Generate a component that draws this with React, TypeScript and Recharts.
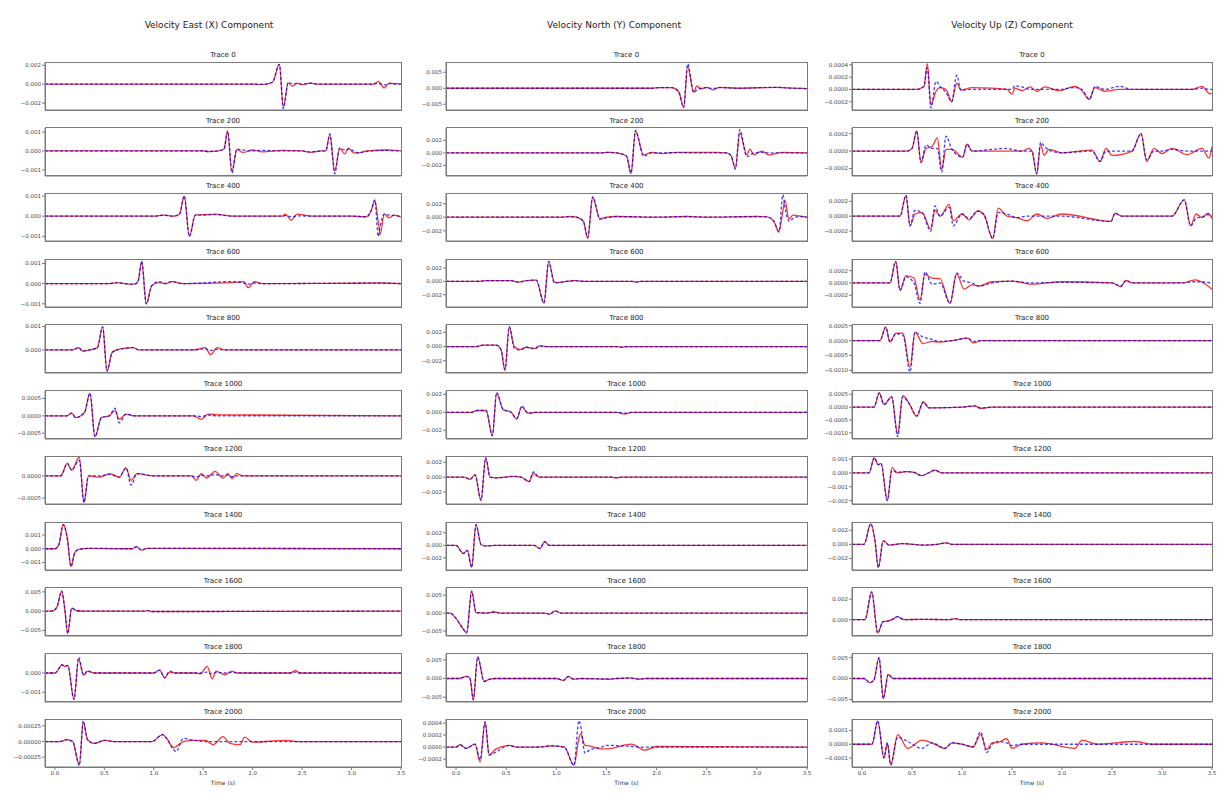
import { LineChart, Line, XAxis, YAxis } from 'recharts'

// values are in units of 1e-4 (m/s)
const UNIT = 1e-4
const xTicks = [0, 0.5, 1, 1.5, 2, 2.5, 3, 3.5]

// ---- Velocity East (X) ----
const e0T = [-0.1, 2.0, 2.1, 2.2, 2.27, 2.31, 2.36, 2.40, 2.45, 2.5, 2.58, 2.65, 3.0, 3.22, 3.27, 3.33, 3.38, 3.45, 3.5]
const e0Red = [0, 0, -0.3, 2, 21, -24, 1, -2, 1, -0.5, 1, 0, 0, 0, 3, -4, 1, 0.5, 0]
const e0Blue = [0, 0, -0.3, 2, 21, -26, 2, 0.5, 0.5, 0, 1, 0, 0, 0, 1, -1, 0.5, 0, 0]

const e200T = [-0.1, 1.5, 1.55, 1.65, 1.71, 1.747, 1.79, 1.84, 1.9, 2.0, 2.1, 2.3, 2.5, 2.58, 2.7, 2.74, 2.78, 2.83, 2.88, 2.93, 2.97, 3.02, 3.07, 3.15, 3.35, 3.45, 3.5]
const e200Red = [0, 0, -0.3, 0, 1, 10.5, -11, 0.8, -0.8, 0.5, -0.5, 0.3, 0, -0.8, 0, 0, 8.5, -10.5, 1.5, -1.5, 1.5, -1, -1, 0, 0.5, 0.3, 0]
const e200Blue = [0, 0, -0.3, 0, 1, 10.5, -11.5, 1, 0.5, 0, 0.3, 0, 0, -0.5, 0, 0, 9, -12, 1.5, 0.5, 1, 0, -1, -0.3, 0.3, 0, 0]

const e400T = [-0.1, 1.0, 1.1, 1.2, 1.26, 1.308, 1.36, 1.42, 1.5, 1.62, 1.8, 2.3, 2.33, 2.39, 2.45, 2.6, 3.0, 3.15, 3.2, 3.235, 3.27, 3.29, 3.33, 3.38, 3.43, 3.5]
const e400Red = [0, 0, 0.5, 0, 1, 10, -10, 0.5, 0.8, 1, 0, 0, 1, -2, 1, 0, 0, -0.3, 3, 8, -3, -9, 1, -0.8, 0.5, -0.5]
const e400Blue = [0, 0, 0.5, 0, 1, 10, -10, 0.5, 0.5, 0.8, 0, 0, 0.3, -0.3, 0.2, 0, 0, -0.3, 3, 8, -10, -5, 1, 0.5, 0.3, 0]

const e600T = [-0.1, 0.55, 0.63, 0.7, 0.8, 0.84, 0.878, 0.924, 0.98, 1.05, 1.12, 1.18, 1.3, 1.79, 1.91, 1.956, 2.02, 2.1, 3.3, 3.5]
const e600Red = [0, 0, 0.5, 0, -0.3, 1, 11, -10, -1, 0.5, 0, 1, 0, 0.5, 1, -2, 1, 0, 0.3, 0]
const e600Blue = [0, 0, 0.5, 0, -0.3, 1, 11, -10, -1, 1, 0, 1, 0, 1, 0.3, -0.3, 0.3, 0, 0.2, 0]

const e800T = [-0.1, 0.18, 0.24, 0.28, 0.35, 0.43, 0.483, 0.527, 0.58, 0.65, 0.79, 0.85, 1.4, 1.52, 1.575, 1.64, 1.72, 3.5]
const e800Red = [0, 0, 1, -0.5, 0, 1, 9.8, -9, -1, 0.3, 1, 0, 0, 1, -2, 1, 0, 0]
const e800Blue = [0, 0, 1, -0.5, 0, 1, 9.8, -9, -1, 0.3, 1, 0, 0, 0.5, -0.3, 0.3, 0, 0]

const e1000T = [-0.1, 0.12, 0.17, 0.21, 0.3, 0.355, 0.405, 0.47, 0.55, 0.608, 0.65, 0.72, 0.8, 1.4, 1.48, 1.55, 1.65, 3.5]
const e1000Red = [0, 0, 0.8, -0.5, 1, 6.5, -6, -0.5, 0, 1.5, -1, 0.5, 0, 0, -1, 0.5, 0.3, 0]
const e1000Blue = [0, 0, 0.8, -0.5, 1, 6.5, -6, -0.5, 0, 2.2, -2, 0.5, 0, 0, -0.2, 0.2, 0, 0]

const e1200T = [-0.1, 0.06, 0.125, 0.17, 0.247, 0.294, 0.34, 0.45, 0.557, 0.65, 0.72, 0.77, 0.83, 1.0, 1.38, 1.43, 1.48, 1.53, 1.62, 1.7, 1.75, 1.79, 1.84, 1.9, 3.5]
const e1200Red = [0, 0, 2.8, 1.3, 4.2, -6, 0, -0.3, 0.5, -0.3, 1.8, -1, 0.5, 0, 0, -1, 0.5, -0.5, 1, -0.5, 0.5, -0.6, 0.5, 0, 0]
const e1200Blue = [0, 0, 2.8, 1.3, 3.5, -6, 0, 0, 0.3, -0.3, 1.8, -2.1, 0.5, 0, 0, -0.3, 0.2, 0, 0.3, 0, 0.2, -0.2, 0, 0, 0]

const e1400T = [-0.1, 0.0, 0.04, 0.085, 0.125, 0.163, 0.2, 0.24, 0.35, 0.78, 0.827, 0.878, 0.93, 3.5]
const e1400Vals = [0, 0, 3, 17.5, 8, -13, -3, -0.5, 0.3, 0, 1.5, -1, 0.3, 0]

const e1600T = [-0.1, -0.03, 0.02, 0.069, 0.1, 0.13, 0.17, 0.22, 0.3, 0.9, 0.94, 0.98, 3.5]
const e1600Vals = [0, 0, 10, 52, 5, -58, 8, 1, 0, 0, 1.5, -1, 0]

const e1800T = [-0.1, 0.0, 0.05, 0.07, 0.1, 0.13, 0.193, 0.24, 0.29, 0.33, 0.4, 1.0, 1.06, 1.11, 1.16, 1.22, 1.42, 1.47, 1.54, 1.59, 1.63, 1.72, 1.79, 1.85, 2.38, 2.43, 2.48, 3.5]
const e1800Red = [0, 0, 3, 4.3, 3.5, 4, -13.6, 7, -1, 1, 0, 0, 1.5, -2.5, 0.5, 0, 0, -0.5, 3.5, -3, 1, -1, 1, 0, 0, 1.2, 0, 0]
const e1800Blue = [0, 0, 3, 4.3, 3.5, 4, -13.8, 8.2, -1, 1, 0, 0, 1.5, -2.5, 1, 0, 0, 0, 0.5, -0.5, 0.3, 0, 0.3, 0, 0, 0.5, 0, 0]

const e2000T = [-0.1, 0.05, 0.12, 0.18, 0.247, 0.287, 0.33, 0.4, 0.5, 0.6, 0.98, 1.09, 1.13, 1.2, 1.225, 1.3, 1.4, 1.52, 1.6, 1.7, 1.77, 1.87, 1.92, 2.0, 2.34, 2.45, 3.5]
const e2000Red = [0, 0, 0.3, 0, -3.7, 3.1, 0.3, -0.3, 0.2, 0, 0, 1.1, 0.5, -1, -0.8, 0, 0.2, 0.2, -0.5, 0.8, -0.3, -0.5, 0.7, -0.1, 0.2, 0, 0]
const e2000Blue = [0, 0, 0.3, 0, -3.8, 3.3, 0.3, -0.3, 0.2, 0, 0, 1.1, 0.5, -1.3, -1.6, 0.5, 0.2, 0, 0, 0, 0, 0, 0, 0, 0, 0, 0]

// ---- Velocity North (Y) ----
const n0T = [-0.1, 1.95, 2.03, 2.15, 2.22, 2.27, 2.31, 2.37, 2.40, 2.44, 2.5, 2.56, 2.63, 2.8, 3.2, 3.3, 3.5]
const n0Red = [0, 0, 2, 2, -10, -60, 68, -13, 7, -2, 3, -5, 3, 0, 3, 1, -1]
const n0Blue = [0, 0, 2, 2, -10, -60, 76, -13, -6, 0, 2, -1, 2, 0, 3, 1, -1]

const n200T = [-0.1, 1.45, 1.52, 1.6, 1.7, 1.745, 1.79, 1.87, 1.95, 2.05, 2.2, 2.4, 2.6, 2.7, 2.745, 2.785, 2.83, 2.9, 2.93, 2.97, 3.05, 3.12, 3.25, 3.5]
const n200Red = [0, 0, 1, 0, -5, -33, 34, -3, 1, -1, 1, 1, 1, 0, -5, -25, 32, -3, 6, -3, 3, -3, 1, 0]
const n200Blue = [0, 0, 1, 0, -5, -32, 36, -5, 0, 0, 0.5, 0, 0, 0, -5, -26, 37, -6, -4, 0, 1, 0, 0, 0]

const n400T = [-0.1, 1.05, 1.136, 1.2, 1.27, 1.313, 1.363, 1.435, 1.5, 1.6, 2.0, 2.3, 2.5, 3.0, 3.1, 3.17, 3.22, 3.26, 3.28, 3.32, 3.36, 3.42, 3.5]
const n400Red = [0, 0, 1, 0, -6, -31, 29, -2, 0, 1, 0, 1, 0, 1, 0.5, -6, -22, 10, 25, -3, 3, 2, 0]
const n400Blue = [0, 0, 1, 0, -6, -30, 30, -3, -1, 1, 0, 1, 0, 1, 0.5, -6, -21, 33, 15, -6, -2, 1, 0]

const n600T = [-0.1, 0.2, 0.3, 0.55, 0.62, 0.7, 0.8, 0.877, 0.924, 0.98, 1.02, 1.1, 1.19, 1.3, 1.75, 1.8, 1.85, 3.5]
const n600Red = [0, 0, 1, 1, -1, 1, 2, -33, 30, -1, -2, 0, 1, 0, 0, -1, 0, 0]
const n600Blue = [0, 0, 1, 1, -1, 1, 2, -32, 30, -2, -2, 0, 1, 0, 0, -1, 0, 0]

const n800T = [-0.1, 0.2, 0.27, 0.4, 0.45, 0.488, 0.531, 0.58, 0.638, 0.7, 0.787, 0.83, 0.9, 1.6, 1.65, 1.7, 3.5]
const n800Red = [0, 0, 2, 2, -5, -34, 28, 0, -4, -1, -3, 1, 0, 0, -1, 0, 0]
const n800Blue = [0, 0, 2, 2, -5, -32, 28, -2, -5, -1, -3, 1, 0, 0, -1, 0, 0]

const n1000T = [-0.1, 0.15, 0.21, 0.3, 0.362, 0.405, 0.47, 0.55, 0.605, 0.655, 0.72, 0.8, 1.6, 1.685, 1.75, 3.5]
const n1000Red = [0, 0, 2, 2, -26, 21, 3, 0, -7.5, 6, -1, 0, 0, -2, 0, 0]
const n1000Blue = [0, 0, 2, 2, -26, 22, 3, 0, -7, 7, -1, 0, 0, -1, 0, 0]

const n1200T = [-0.1, 0.08, 0.14, 0.19, 0.249, 0.296, 0.34, 0.4, 0.57, 0.65, 0.73, 0.77, 0.83, 1.55, 1.6, 1.65, 3.5]
const n1200Red = [0, 0, -3, 3, -31, 26, 0, -1, 1, 0, -6, 5, 0, 0, -1, 0, 0]
const n1200Blue = [0, 0, -3, 3, -31, 26, 0, -1, 1, 0, -6, 7, 0, 0, -0.5, 0, 0]

const n1400T = [-0.1, 0.0, 0.073, 0.112, 0.156, 0.199, 0.25, 0.3, 0.4, 0.78, 0.837, 0.884, 0.93, 3.5]
const n1400Vals = [0, 0, -13, -8, -35, 33, 1, -1, 0, 0, -5, 6, 0, 0]

const n1600T = [-0.1, -0.06, 0.0, 0.066, 0.106, 0.156, 0.2, 0.3, 0.38, 0.45, 0.88, 0.937, 0.987, 1.05, 3.5]
const n1600Vals = [0, 0, -15, -42, -55, 61, 1, 0, 3, 0, 0, -3, 6, 0, 0]

const n1800T = [-0.1, 0.03, 0.106, 0.14, 0.172, 0.216, 0.28, 0.33, 0.4, 1.0, 1.07, 1.12, 1.17, 1.25, 1.53, 1.6, 1.73, 1.83, 1.9, 3.5]
const n1800Red = [0, 0, 6, 0, -57, 58, -8, -2, 0, 0, -5, 6, -2, 0, -2, 0, 2, -2, 0, 0]
const n1800Blue = [0, 0, 6, 0, -57, 58, -8, -2, 0, 0, -5, 5, -1, 0, -1, 0, 1, -1, 0, 0]

const n2000T = [-0.1, 0.0, 0.04, 0.1, 0.19, 0.24, 0.29, 0.33, 0.4, 0.53, 0.6, 0.8, 0.95, 1.08, 1.176, 1.226, 1.243, 1.286, 1.33, 1.45, 1.5, 1.75, 1.88, 2.0, 3.5]
const n2000Red = [0, 0, 0.4, -0.2, 0.5, -2.5, 4.2, -1.3, -0.3, 0.3, 0, 0, 0.2, 0, -3, 1.5, 2.2, 0.3, 0.2, -0.3, -0.3, 0.5, -0.5, 0.1, 0]
const n2000Blue = [0, 0, 0.4, -0.2, 0.5, -2.1, 4.2, -1.3, -0.8, 0.3, 0, 0, 0.2, 0, -3, 4.4, 3.5, -1, -0.5, 0, 0.3, 0.1, 0, 0, 0]

// ---- Velocity Up (Z) ----
const u0T = [-0.1, 0.55, 0.62, 0.653, 0.69, 0.74, 0.78, 0.84, 0.897, 0.947, 0.99, 1.1, 1.3, 1.45, 1.5, 1.53, 1.6, 1.68, 1.75, 1.83, 1.97, 2.13, 2.2, 2.273, 2.33, 2.43, 2.57, 2.7, 3.3, 3.4, 3.48, 3.5]
const u0Red = [0, 0, 0.5, 4.2, -2.5, -0.3, 0.3, 0, -2, 1, -0.1, 0.3, 0.2, 0, -0.8, 0.2, -0.2, 0.4, -0.3, 0.4, -0.2, 0.5, -0.2, -1.6, 0.3, -0.3, 0, 0, 0, 0.5, -0.7, -0.6]
const u0Blue = [0, 0, 0.5, 3.5, -3, 1.3, 0.5, -0.5, -2, 2.3, -0.1, 0, 0, 0, 0, 0.6, 0.4, 0, 0, 0, 0, 0.3, 0, -1.6, 0.5, 0, 0.5, 0, 0, 0.2, 0, 0]

const u200T = [-0.1, 0.45, 0.5, 0.547, 0.59, 0.64, 0.7, 0.753, 0.797, 0.84, 0.9, 1.007, 1.05, 1.1, 1.43, 1.6, 1.67, 1.7, 1.747, 1.787, 1.82, 1.87, 2.0, 2.3, 2.38, 2.44, 2.5, 2.7, 2.79, 2.847, 2.92, 3.0, 3.1, 3.25, 3.4, 3.47, 3.5]
const u200Red = [0, 0, 0.3, 2.3, -1.3, 0.3, 0.5, 1.5, -2.1, 0.2, 0.2, -0.7, 0.8, 0, 0, 0, 0.3, 0, -2.6, 0.8, -0.5, 0.2, -0.2, 0.1, -1.2, 0.3, -0.5, 0, 2, -1.2, 0.3, -0.3, 0.3, -0.4, 0.3, -0.8, 0.5]
const u200Blue = [0, 0, 0.3, 2.3, -1.3, 0.7, 0.3, 0.3, -2.4, 1.7, 0.2, -0.7, 0.8, 0, 0.3, 0, 0, 0, -2.6, 1.0, 0.6, 0.1, -0.2, 0, -1.2, 0, 0, 0, 2, -1, 0, 0, 0.2, 0, 0, 0, 0]

const u400T = [-0.1, 0.38, 0.44, 0.48, 0.53, 0.6, 0.687, 0.73, 0.78, 0.873, 0.913, 1.0, 1.07, 1.157, 1.22, 1.307, 1.363, 1.45, 1.55, 1.65, 1.75, 1.85, 2.0, 2.49, 2.53, 2.6, 3.1, 3.223, 3.287, 3.34, 3.4, 3.46, 3.5]
const u400Red = [0, 0, 2.8, -1.3, 0.3, 0.5, -1.7, 0.8, 0, 1.6, -0.6, 0.3, -0.5, 0.7, 0.2, -3, 1.1, 0, -0.2, -0.6, 0.3, -0.3, 0.3, -0.7, 0.4, 0, 0, 2.2, -1.3, 0.3, -0.2, 0.4, -0.3]
const u400Blue = [0, 0, 2.8, -1.3, 0.8, 0.5, -2, 1.4, 0, 1.2, -1.3, 0.3, -0.3, 0.7, 0.2, -3, 0.5, 0.3, -0.2, 0, 0, 0, 0, -0.7, 0.4, 0, 0, 2.2, -1.3, -0.3, -0.1, 0.2, 0]

const u600T = [-0.1, 0.28, 0.337, 0.38, 0.44, 0.52, 0.58, 0.63, 0.7, 0.78, 0.88, 0.947, 1.02, 1.1, 1.17, 1.3, 1.5, 1.7, 2.0, 2.5, 2.587, 2.64, 2.7, 3.2, 3.33, 3.5]
const u600Red = [0, 0, 3.5, -1.2, 1.2, 0.8, -2.8, 1.4, 0.8, 0.7, -3.3, 1.5, -1, -0.3, -0.5, 0.2, 0.3, -0.2, 0.2, 0, -0.6, 0.4, 0, 0, 0.5, -1]
const u600Blue = [0, 0, 3.5, -1.2, 1, 0, -3.3, 1.8, -0.2, 0, -3.3, 1.6, 0.3, 0, -0.5, 0, 0.3, 0, 0.1, 0, -0.5, 0.4, 0, 0, 0.2, 0]

const u800T = [-0.1, 0.18, 0.237, 0.28, 0.34, 0.41, 0.48, 0.53, 0.61, 0.7, 0.77, 0.9, 1.06, 1.11, 1.2, 3.5]
const u800Red = [0, 0, 4.5, -0.5, 2.5, 2.5, -9, 2.8, -1, -0.3, -0.5, 0, 0.8, -0.8, 0, 0]
const u800Blue = [0, 0, 4.5, -0.5, 2.3, 1.8, -10.5, 2.8, 1.2, 0.4, -0.3, 0, 0.8, -0.3, 0, 0]

const u1000T = [-0.1, 0.12, 0.173, 0.22, 0.297, 0.357, 0.407, 0.47, 0.547, 0.613, 0.67, 1.0, 1.13, 1.18, 1.3, 3.5]
const u1000Red = [0, 0, 5.5, 1, 4, -10.5, 4.5, 1.5, -3.5, 2, -0.3, 0, 0.5, -0.5, 0, 0]
const u1000Blue = [0, 0, 5.5, 1, 4, -11.5, 4, 1.5, -3.5, 2, -0.3, 0, 0.5, -0.3, 0, 0]

const u1200T = [-0.1, 0.07, 0.123, 0.163, 0.19, 0.253, 0.3, 0.35, 0.44, 0.52, 0.597, 0.65, 0.73, 0.8, 3.5]
const u1200Red = [0, 0, 11, 6, 7, -20, 4, 0, 1, 0.5, -2, -0.5, 2, 0, 0]
const u1200Blue = [0, 0, 11, 6, 7, -20, 2, 0.5, 1, 0.5, -2, -0.5, 2, 0, 0]

const u1400T = [-0.1, 0.02, 0.087, 0.13, 0.163, 0.213, 0.27, 0.4, 0.62, 0.75, 0.84, 0.9, 3.5]
const u1400Vals = [0, 0, 29, 5, -33, 5, -1, 1, -1, 0, 2, 0, 0]

const u1600T = [-0.1, 0.03, 0.097, 0.157, 0.21, 0.25, 0.3, 0.353, 0.42, 0.6, 0.88, 0.93, 0.98, 3.5]
const u1600Vals = [0, 0, 27, -13, -2, -1.5, 0, 3, 0, 0.3, 0, 1, 0, 0]

const u1800T = [-0.1, 0.02, 0.08, 0.12, 0.17, 0.213, 0.263, 0.31, 3.5]
const u1800Vals = [0, 0, -10, -3, 50, -48, 10, 0, 0]

const u2000T = [-0.1, 0.1, 0.157, 0.22, 0.253, 0.287, 0.357, 0.457, 0.6, 0.7, 0.83, 0.9, 1.0, 1.11, 1.187, 1.247, 1.3, 1.35, 1.447, 1.5, 1.6, 1.8, 2.13, 2.2, 2.35, 2.73, 2.9, 3.5]
const u2000Red = [0, 0, 1.7, -1, 0.1, -1.5, 0.7, -0.3, 0.3, 0.1, -0.3, 0.1, 0, -0.2, 0.7, -0.4, 0.1, 0.1, 0.4, -0.3, 0, 0.1, -0.3, 0.3, 0, 0.2, 0, 0]
const u2000Blue = [0, 0, 1.7, -1, 0.1, -1.5, 0.5, 0.2, -0.3, 0.1, -0.3, 0.1, 0, -0.2, 0.9, -0.6, 0, 0.2, 0.1, -0.1, 0, 0, 0, 0, 0, 0, 0, 0]

// y tick sets
const ticks2m = [-0.002, 0, 0.002]
const ticks1m = [-0.001, 0, 0.001]
const ticks5m = [-0.005, 0, 0.005]
const ticksHalf = [-0.0005, 0, 0.0005]
const ticks02 = [-0.0002, 0, 0.0002]
const ticks024 = [-0.0002, 0, 0.0002, 0.0004]

type PanelSpec = {
  trace: number
  t: number[]
  red: number[]
  blue: number[]
  domain: [number, number]
  ticks: number[]
  dec: number
}

const eastPanels: PanelSpec[] = [
  { trace: 0, t: e0T, red: e0Red, blue: e0Blue, domain: [-0.00274, 0.00235], ticks: ticks2m, dec: 3 },
  { trace: 200, t: e200T, red: e200Red, blue: e200Blue, domain: [-0.00132, 0.00121], ticks: ticks1m, dec: 3 },
  { trace: 400, t: e400T, red: e400Red, blue: e400Blue, domain: [-0.00123, 0.00115], ticks: ticks1m, dec: 3 },
  { trace: 600, t: e600T, red: e600Red, blue: e600Blue, domain: [-0.00116, 0.00122], ticks: ticks1m, dec: 3 },
  { trace: 800, t: e800T, red: e800Red, blue: e800Blue, domain: [-0.00098, 0.00106], ticks: [0, 0.001], dec: 3 },
  { trace: 1000, t: e1000T, red: e1000Red, blue: e1000Blue, domain: [-0.000666, 0.000714], ticks: ticksHalf, dec: 4 },
  { trace: 1200, t: e1200T, red: e1200Red, blue: e1200Blue, domain: [-0.000634, 0.000448], ticks: [-0.0005, 0], dec: 4 },
  { trace: 1400, t: e1400T, red: e1400Vals, blue: e1400Vals, domain: [-0.00155, 0.00195], ticks: ticks1m, dec: 3 },
  { trace: 1600, t: e1600T, red: e1600Vals, blue: e1600Vals, domain: [-0.00645, 0.006], ticks: ticks5m, dec: 3 },
  { trace: 1800, t: e1800T, red: e1800Red, blue: e1800Blue, domain: [-0.00151, 0.00099], ticks: [-0.001, 0], dec: 3 },
  { trace: 2000, t: e2000T, red: e2000Red, blue: e2000Blue, domain: [-0.000406, 0.00036], ticks: [-0.00025, 0, 0.00025], dec: 5 },
]

const northPanels: PanelSpec[] = [
  { trace: 0, t: n0T, red: n0Red, blue: n0Blue, domain: [-0.0068, 0.0082], ticks: ticks5m, dec: 3 },
  { trace: 200, t: n200T, red: n200Red, blue: n200Blue, domain: [-0.00369, 0.00398], ticks: ticks2m, dec: 3 },
  { trace: 400, t: n400T, red: n400Red, blue: n400Blue, domain: [-0.0035, 0.00356], ticks: ticks2m, dec: 3 },
  { trace: 600, t: n600T, red: n600Red, blue: n600Blue, domain: [-0.00385, 0.00336], ticks: ticks2m, dec: 3 },
  { trace: 800, t: n800T, red: n800Red, blue: n800Blue, domain: [-0.00372, 0.00303], ticks: ticks2m, dec: 3 },
  { trace: 1000, t: n1000T, red: n1000Red, blue: n1000Blue, domain: [-0.00297, 0.00237], ticks: ticks2m, dec: 3 },
  { trace: 1200, t: n1200T, red: n1200Red, blue: n1200Blue, domain: [-0.0036, 0.00284], ticks: ticks2m, dec: 3 },
  { trace: 1400, t: n1400T, red: n1400Vals, blue: n1400Vals, domain: [-0.00394, 0.00373], ticks: ticks2m, dec: 3 },
  { trace: 1600, t: n1600T, red: n1600Vals, blue: n1600Vals, domain: [-0.0064, 0.007], ticks: ticks5m, dec: 3 },
  { trace: 1800, t: n1800T, red: n1800Red, blue: n1800Blue, domain: [-0.0063, 0.00658], ticks: ticks5m, dec: 3 },
  { trace: 2000, t: n2000T, red: n2000Red, blue: n2000Blue, domain: [-0.00033, 0.000467], ticks: ticks024, dec: 4 },
]

const upPanels: PanelSpec[] = [
  { trace: 0, t: u0T, red: u0Red, blue: u0Blue, domain: [-0.000334, 0.000445], ticks: ticks024, dec: 4 },
  { trace: 200, t: u200T, red: u200Red, blue: u200Blue, domain: [-0.000286, 0.000264], ticks: ticks02, dec: 4 },
  { trace: 400, t: u400T, red: u400Red, blue: u400Blue, domain: [-0.000333, 0.000312], ticks: ticks02, dec: 4 },
  { trace: 600, t: u600T, red: u600Red, blue: u600Blue, domain: [-0.00039, 0.000389], ticks: ticks02, dec: 4 },
  { trace: 800, t: u800T, red: u800Red, blue: u800Blue, domain: [-0.00109, 0.000523], ticks: [-0.001, -0.0005, 0, 0.0005], dec: 4 },
  { trace: 1000, t: u1000T, red: u1000Red, blue: u1000Blue, domain: [-0.00124, 0.000627], ticks: [-0.001, -0.0005, 0, 0.0005], dec: 4 },
  { trace: 1200, t: u1200T, red: u1200Red, blue: u1200Blue, domain: [-0.00225, 0.00123], ticks: [-0.002, -0.001, 0, 0.001], dec: 3 },
  { trace: 1400, t: u1400T, red: u1400Vals, blue: u1400Vals, domain: [-0.00364, 0.00317], ticks: ticks2m, dec: 3 },
  { trace: 1600, t: u1600T, red: u1600Vals, blue: u1600Vals, domain: [-0.00159, 0.00308], ticks: [0, 0.002], dec: 3 },
  { trace: 1800, t: u1800T, red: u1800Vals, blue: u1800Vals, domain: [-0.00563, 0.00587], ticks: ticks5m, dec: 3 },
  { trace: 2000, t: u2000T, red: u2000Red, blue: u2000Blue, domain: [-0.000166, 0.000184], ticks: [-0.0001, 0, 0.0001], dec: 4 },
]

const columns = [
  { title: 'Velocity East (X) Component', panels: eastPanels, left: 45, width: 356, titleX: 209 },
  { title: 'Velocity North (Y) Component', panels: northPanels, left: 446, width: 361, titleX: 614 },
  { title: 'Velocity Up (Z) Component', panels: upPanels, left: 852, width: 360, titleX: 1012 },
]

const FONT = '"DejaVu Sans", sans-serif'
const ROW_TOP = 62
const ROW_STEP = 65.73
const BOX_H = 48
const Y_W = 40
const R_PAD = 10
const FRAME = '#7a7a7a'

const fmt = (dec: number) => (v: number) => v.toFixed(dec).replace('-', '\u2212')

function Panel({ p, left, top, width, bottom }: { p: PanelSpec; left: number; top: number; width: number; bottom: boolean }) {
  const xH = bottom ? 14 : 4
  const rows = p.t.map((t, i) => ({ t, red: p.red[i] * UNIT, blue: p.blue[i] * UNIT }))
  const tickStyle = { fontSize: 5.5, fill: '#444', fontFamily: FONT }
  return (
    <>
      <div
        style={{
          position: 'absolute', left, top: top - 12, width, textAlign: 'center',
          fontFamily: FONT, fontSize: 7, color: '#222', lineHeight: '10px',
        }}
      >
        Trace {p.trace}
      </div>
      <div style={{ position: 'absolute', left: left - Y_W, top: top - 1 }}>
        <LineChart
          width={Y_W + width + R_PAD}
          height={BOX_H + 1 + xH}
          data={rows}
          margin={{ top: 1, right: R_PAD, bottom: 0, left: 0 }}
        >
          <XAxis
            dataKey="t"
            type="number"
            domain={[-0.1, 3.5]}
            ticks={xTicks}
            interval={0}
            allowDataOverflow
            height={xH}
            tickSize={3}
            tickMargin={1}
            stroke={FRAME}
            tick={bottom ? tickStyle : false}
            tickFormatter={(v: number) => v.toFixed(1)}
          />
          <YAxis
            type="number"
            domain={p.domain}
            ticks={p.ticks}
            interval={0}
            allowDataOverflow
            width={Y_W}
            tickSize={3}
            tickMargin={1}
            stroke={FRAME}
            tick={tickStyle}
            tickFormatter={fmt(p.dec)}
          />
          <Line
            type="monotone"
            dataKey="red"
            stroke="#ff0000"
            strokeOpacity={0.8}
            strokeWidth={1.3}
            dot={false}
            isAnimationActive={false}
          />
          <Line
            type="monotone"
            dataKey="blue"
            stroke="#0000ff"
            strokeOpacity={0.75}
            strokeWidth={1.3}
            strokeDasharray="3 2"
            dot={false}
            isAnimationActive={false}
          />
        </LineChart>
      </div>
      {/* axes frame */}
      <div
        style={{
          position: 'absolute', left: left - 0.5, top: top - 0.5, width: width + 1, height: BOX_H + 1,
          border: `1px solid ${FRAME}`, boxSizing: 'border-box', pointerEvents: 'none',
        }}
      />
    </>
  )
}

export default function App() {
  return (
    <div style={{ position: 'absolute', left: 0, top: 0, width: 1223, height: 807, background: '#fff', overflow: 'hidden' }}>
      {columns.map(col => (
        <div key={col.title}>
          <div
            style={{
              position: 'absolute', left: col.titleX - 150, top: 19, width: 300, textAlign: 'center',
              fontFamily: FONT, fontSize: 9, color: '#222', lineHeight: '12px',
            }}
          >
            {col.title}
          </div>
          {col.panels.map((p, i) => (
            <Panel
              key={p.trace}
              p={p}
              left={col.left}
              top={ROW_TOP + i * ROW_STEP}
              width={col.width}
              bottom={i === col.panels.length - 1}
            />
          ))}
          <div
            style={{
              position: 'absolute', left: col.left, top: 779, width: col.width, textAlign: 'center',
              fontFamily: FONT, fontSize: 6, color: '#333', lineHeight: '8px',
            }}
          >
            Time (s)
          </div>
        </div>
      ))}
    </div>
  )
}
